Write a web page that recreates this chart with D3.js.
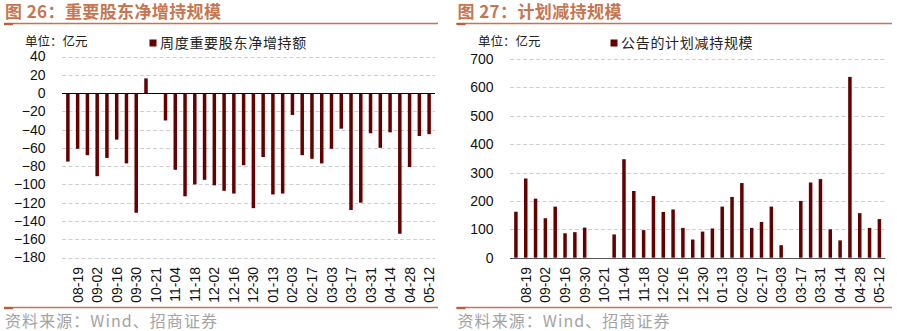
<!DOCTYPE html>
<html>
<head>
<meta charset="utf-8">
<script src="https://cdn.jsdelivr.net/npm/d3@7/dist/d3.min.js"></script>
<style>
html,body{margin:0;padding:0;background:#fff;}
svg{display:block;}
</style>
</head>
<body>
<svg id="chart" width="897" height="331"></svg>
<script>
// ---- data ----
const categories = ["08-12","08-19","08-26","09-02","09-09","09-16","09-23","09-30","10-14","10-21",
  "10-28","11-04","11-11","11-18","11-25","12-02","12-09","12-16","12-23","12-30",
  "01-06","01-13","01-20","02-03","02-10","02-17","02-24","03-03","03-10","03-17",
  "03-24","03-31","04-07","04-14","04-21","04-28","05-06","05-12"];
const netIncrease = [-75,-61,-68,-91,-71,-51,-77,-131,16,0,
  -30,-84,-113,-100,-95,-101,-107,-110,-79,-126,
  -70,-111,-110,-24,-68,-72,-77,-61,-39,-128,
  -120,-44,-60,-43,-154,-81,-47,-45];
const plannedReduction = [162,279,208,139,180,86,90,106,0,0,
  82,347,235,97,217,161,170,105,64,92,
  103,180,214,263,105,126,180,44,0,200,
  265,277,100,61,637,157,105,136];
const leftTicks = [40,20,0,-20,-40,-60,-80,-100,-120,-140,-160,-180];
const rightTicks = [0,100,200,300,400,500,600,700];
const titles = ["图 26：重要股东净增持规模","图 27：计划减持规模"];
const legends = ["周度重要股东净增持额","公告的计划减持规模"];
const unitText = "单位：亿元";
const sourceText = "资料来源：Wind、招商证券";

// ---- styles ----
const barColor = "#650000";
const accent = "#C8754F";
const cjk = "'Noto Sans CJK SC','Noto Sans',sans-serif";
const num = "'Liberation Sans',Arial,sans-serif";

const svg = d3.select("#chart");

function panel(opt){
  const g = svg.append("g");
  // title
  g.append("text").attr("x", opt.x0+1).attr("y", 18)
    .attr("font-family", cjk).attr("font-weight", "bold").attr("font-size", 17)
    .attr("fill", accent).attr("textLength", opt.titleLen).attr("lengthAdjust", "spacing").text(opt.title);
  g.append("line").attr("x1", opt.x0).attr("x2", opt.x1).attr("y1", 23.5).attr("y2", 23.5)
    .attr("stroke", accent).attr("stroke-width", 1.3);
  g.append("rect").attr("x", opt.x0).attr("y", 23).attr("width", 9).attr("height", 2.2).attr("fill", "#B85E3A");
  // bottom line + source
  g.append("line").attr("x1", opt.x0).attr("x2", opt.x1).attr("y1", 307.5).attr("y2", 307.5)
    .attr("stroke", accent).attr("stroke-width", 1.3);
  g.append("rect").attr("x", opt.x0).attr("y", 307).attr("width", 9).attr("height", 2.2).attr("fill", "#B85E3A");
  g.append("text").attr("x", opt.x0+1).attr("y", 327)
    .attr("font-family", cjk).attr("font-size", 16).attr("fill", "#a3a3a3")
    .attr("textLength", 212).attr("lengthAdjust", "spacing").text(sourceText);
  // unit and legend
  g.append("text").attr("x", opt.unitX).attr("y", 45.5)
    .attr("font-family", cjk).attr("font-size", 12.5).attr("fill", "#222").text(unitText);
  g.append("rect").attr("x", opt.legX).attr("y", 39.5).attr("width", 7).attr("height", 7).attr("fill", barColor);
  g.append("text").attr("x", opt.legX+10.5).attr("y", 47.5)
    .attr("font-family", cjk).attr("font-size", 14).attr("letter-spacing", 0.7).attr("fill", "#222").text(opt.legend);

  const x = d3.scaleBand().domain(categories).range([opt.px0, opt.px1]);
  const y = d3.scaleLinear().domain(opt.domain).range([opt.py1, opt.py0]);

  // gridlines
  g.append("g").selectAll("line").data(opt.ticks.filter(t => t !== 0)).join("line")
    .attr("x1", opt.px0-1).attr("x2", opt.px1+1)
    .attr("y1", d => Math.round(y(d))+0.5).attr("y2", d => Math.round(y(d))+0.5)
    .attr("stroke", "#cfcfcf").attr("stroke-width", 1).attr("stroke-dasharray", "4,2.5");

  // y axis labels
  const ya = d3.axisLeft(y).tickValues(opt.ticks).tickSize(0).tickPadding(0).tickFormat(d3.format("d"));
  const yg = g.append("g").attr("transform", `translate(${opt.labelRight},0)`).call(ya);
  yg.select(".domain").remove();
  yg.selectAll("text").attr("font-family", num).attr("font-size", 14).attr("fill", "#111");

  // bars
  const bw = 3.5;
  g.append("g").selectAll("rect").data(opt.values.map((v,i)=>({c:categories[i], v}))).join("rect")
    .attr("x", d => x(d.c) + x.bandwidth()/2 - bw/2)
    .attr("width", bw)
    .attr("y", d => Math.min(y(d.v), y(0)))
    .attr("height", d => Math.abs(y(d.v) - y(0)))
    .attr("fill", barColor);

  // zero line
  g.append("line").attr("x1", opt.px0-1).attr("x2", opt.px1+1)
    .attr("y1", Math.round(y(0))+0.5).attr("y2", Math.round(y(0))+0.5)
    .attr("stroke", opt.zeroColor).attr("stroke-width", 1.2);

  // x axis labels (every other category)
  const xa = d3.axisBottom(x).tickValues(categories.filter((c,i)=> i % 2 === 1)).tickSize(0).tickPadding(0);
  const xg = g.append("g").attr("transform", `translate(0,${opt.labelTop})`).call(xa);
  xg.select(".domain").remove();
  xg.selectAll("text")
    .attr("font-family", num).attr("font-size", 14).attr("fill", "#111")
    .attr("transform", "rotate(-90)")
    .attr("text-anchor", "end")
    .attr("x", 0).attr("y", 0).attr("dy", "0.36em");
}

panel({
  x0: 4, x1: 438, title: titles[0], legend: legends[0], titleLen: 216,
  unitX: 25, legX: 149.5,
  px0: 63, px1: 434, py0: 56.5, py1: 257.5, domain: [-180, 40],
  ticks: leftTicks, labelRight: 45.5, values: netIncrease, zeroColor: "#000", labelTop: 267
});
panel({
  x0: 456.5, x1: 892, title: titles[1], legend: legends[1], titleLen: 164,
  unitX: 478, legX: 610.5,
  px0: 511, px1: 884.3, py0: 59, py1: 257.7, domain: [0, 700],
  ticks: rightTicks, labelRight: 493.5, values: plannedReduction, zeroColor: "#555", labelTop: 267
});
</script>
</body>
</html>
